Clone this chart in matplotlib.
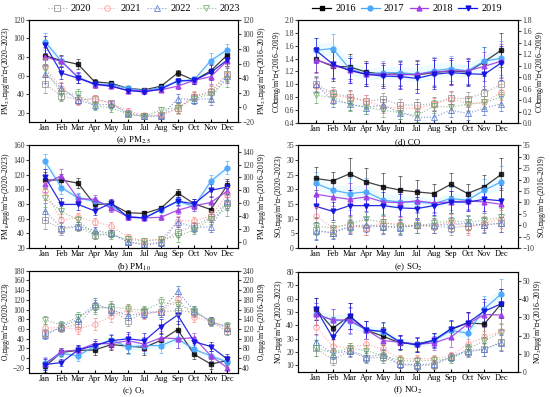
import matplotlib.pyplot as plt
from matplotlib.lines import Line2D

plt.rcParams['font.family'] = ['Liberation Serif', 'Noto Sans CJK SC']
plt.rcParams['mathtext.fontset'] = 'stix'

months = ['Jan', 'Feb', 'Mar', 'Apr', 'May', 'Jun', 'Jul', 'Aug', 'Sep', 'Oct', 'Nov', 'Dec']
x = list(range(1, 13))

years_new = ['2020', '2021', '2022', '2023']
years_old = ['2016', '2017', '2018', '2019']

# PM2.5 (a)
pm25_2020 = [51, 38, 34, 35, 30, 18, 16, 17, 25, 37, 42, 62]
pm25_2021 = [69, 47, 33, 35, 30, 22, 17, 18, 24, 38, 43, 61]
pm25_2022 = [62, 46, 34, 28, 29, 20, 16, 16, 35, 34, 35, 60]
pm25_2023 = [68, 40, 40, 27, 25, 18, 16, 23, 25, 35, 40, 56]
pm25_2016 = [71, 64, 59, 35, 33, 26, 24, 29, 47, 37, 50, 72]
pm25_2017 = [90, 63, 41, 32, 31, 26, 23, 27, 36, 38, 64, 79]
pm25_2018 = [69, 63, 41, 31, 29, 23, 23, 24, 29, 37, 42, 64]
pm25_2019 = [86, 47, 40, 32, 29, 23, 21, 25, 36, 37, 48, 65]
pm25_err_new = [10, 6, 5, 4, 4, 3, 3, 3, 5, 5, 7, 8]
pm25_err_old = [12, 8, 7, 4, 3, 3, 3, 3, 4, 5, 10, 8]

# PM10 (b)
pm10_2020 = [58, 46, 49, 38, 40, 28, 26, 28, 42, 50, 62, 82]
pm10_2021 = [98, 58, 62, 56, 50, 35, 30, 32, 57, 57, 64, 93]
pm10_2022 = [70, 48, 50, 44, 40, 29, 24, 27, 56, 48, 49, 84]
pm10_2023 = [88, 70, 58, 38, 38, 32, 30, 32, 36, 45, 60, 74]
pm10_2016 = [96, 96, 91, 58, 59, 45, 44, 52, 76, 59, 50, 88]
pm10_2017 = [125, 84, 68, 63, 56, 39, 37, 50, 63, 55, 94, 115]
pm10_2018 = [90, 103, 67, 66, 52, 39, 37, 38, 49, 56, 61, 79]
pm10_2019 = [101, 58, 58, 48, 60, 38, 37, 50, 63, 59, 80, 85]
pm10_err_new = [12, 8, 6, 5, 5, 4, 4, 4, 7, 6, 7, 10]
pm10_err_old = [12, 10, 8, 6, 6, 4, 4, 4, 6, 8, 10, 10]

# O3 (c)
o3_2020 = [52, 62, 70, 107, 102, 76, 95, 96, 98, 95, 76, 55]
o3_2021 = [62, 63, 60, 70, 86, 100, 90, 96, 122, 85, 75, 62]
o3_2022 = [47, 65, 80, 112, 100, 88, 92, 96, 138, 97, 76, 63]
o3_2023 = [79, 68, 85, 103, 105, 102, 98, 115, 110, 98, 74, 67]
o3_2016 = [43, 72, 76, 77, 88, 85, 82, 97, 119, 68, 48, 55]
o3_2017 = [50, 70, 65, 85, 98, 83, 86, 86, 100, 78, 65, 52]
o3_2018 = [48, 74, 77, 90, 90, 96, 89, 102, 100, 102, 65, 40]
o3_2019 = [47, 51, 77, 86, 96, 100, 96, 125, 149, 94, 84, 58]
o3_err_new = [8, 8, 10, 12, 12, 10, 10, 12, 10, 10, 8, 8]
o3_err_old = [12, 8, 10, 10, 12, 14, 15, 15, 18, 10, 10, 10]

# CO (d)
co_2020 = [1.01, 0.86, 0.81, 0.74, 0.77, 0.68, 0.68, 0.70, 0.79, 0.78, 0.87, 1.00]
co_2021 = [0.98, 0.83, 0.79, 0.74, 0.65, 0.63, 0.63, 0.69, 0.78, 0.70, 0.72, 0.88]
co_2022 = [1.00, 0.75, 0.70, 0.64, 0.68, 0.56, 0.49, 0.49, 0.60, 0.55, 0.63, 0.70]
co_2023 = [0.83, 0.80, 0.69, 0.64, 0.60, 0.56, 0.52, 0.66, 0.65, 0.69, 0.72, 0.80]
co_2016 = [1.11, 0.99, 0.98, 0.89, 0.85, 0.86, 0.84, 0.88, 0.91, 0.89, 1.07, 1.27]
co_2017 = [1.27, 1.30, 0.95, 0.85, 0.88, 0.88, 0.85, 0.91, 0.95, 0.91, 1.08, 1.13]
co_2018 = [1.10, 1.01, 0.92, 0.85, 0.85, 0.84, 0.85, 0.89, 0.91, 0.91, 0.99, 1.08]
co_2019 = [1.27, 1.03, 0.92, 0.85, 0.82, 0.81, 0.78, 0.85, 0.88, 0.86, 0.85, 1.05]
co_err_new = [0.12, 0.1, 0.1, 0.1, 0.1, 0.1, 0.1, 0.1, 0.1, 0.1, 0.1, 0.12]
co_err_old = [0.22, 0.25, 0.22, 0.2, 0.2, 0.22, 0.25, 0.25, 0.22, 0.22, 0.25, 0.3]

# SO2 (e)
so2_2020 = [6.0, 5.3, 7.5, 7.0, 7.5, 7.2, 7.8, 7.5, 7.0, 7.5, 8.0, 8.5]
so2_2021 = [11.0, 7.0, 8.0, 7.0, 8.5, 8.2, 7.5, 7.5, 9.0, 7.0, 8.5, 10.0]
so2_2022 = [5.8, 5.2, 7.2, 8.0, 7.3, 7.0, 7.8, 7.8, 8.0, 8.5, 7.8, 8.5]
so2_2023 = [7.5, 6.8, 8.3, 9.8, 8.8, 7.5, 7.5, 8.5, 9.3, 8.8, 9.5, 10.5]
so2_2016 = [20.5, 19.4, 22.5, 19.0, 16.9, 15.4, 14.6, 13.9, 17.9, 13.9, 16.9, 22.3]
so2_2017 = [18.3, 15.4, 13.9, 14.6, 11.0, 10.2, 10.2, 9.5, 11.7, 11.0, 15.4, 19.0]
so2_2018 = [13.6, 12.4, 11.4, 12.4, 10.2, 9.9, 10.7, 9.8, 10.2, 10.7, 10.2, 9.2]
so2_2019 = [8.3, 6.1, 8.6, 8.6, 8.6, 7.6, 7.3, 8.6, 10.2, 10.1, 11.4, 10.7]
so2_err_new = [3, 2, 2.5, 2.5, 2.5, 2.5, 2.5, 2.5, 2.5, 2.5, 2.5, 3]
so2_err_old = [5, 4, 7, 6, 6, 6, 5, 4, 5, 4, 5, 7]

# NO2 (f)
no2_2020 = [23, 14, 20.5, 15.6, 16, 10.7, 9.5, 10.5, 16, 20, 22, 27.7]
no2_2021 = [38.7, 24.7, 23, 26, 22, 15, 15, 15, 17, 26, 31, 35.8]
no2_2022 = [27.7, 18.6, 21, 16.6, 18, 11, 10.5, 11, 16.6, 21, 22, 27]
no2_2023 = [23, 19.3, 23, 21, 17.3, 13.7, 13, 14, 14.4, 22.3, 28.4, 35]
no2_2016 = [34.8, 24, 30.7, 23, 19.6, 16, 15.5, 17.3, 23.2, 27, 26.4, 37.5]
no2_2017 = [31.8, 28.6, 28, 23.2, 22, 16.4, 15.2, 17, 22.9, 21.4, 34.8, 42.9]
no2_2018 = [31.8, 28.6, 28.6, 23.2, 17.3, 16.4, 15.2, 16, 19, 26.4, 31.6, 31.3]
no2_2019 = [34.8, 19, 30.7, 23.2, 22.3, 16.4, 14.8, 17.5, 23.6, 27, 33.4, 37.5]
no2_err_new = [6, 4, 4, 4, 4, 3, 3, 3, 3, 4, 5, 6]
no2_err_old = [6, 6, 7, 5, 5, 4, 4, 4, 5, 6, 7, 8]

new_styles = [('#8c8c8c', 's'), ('#ff8a8a', 'o'), ('#4f6fd0', '^'), ('#6aa86a', 'v')]
old_styles = [('#000000', 's'), ('#4aa8ff', 'o'), ('#a23ee6', '^'), ('#1414e0', 'v')]

panels = [
    dict(pos=[0.053, 0.693, 0.380, 0.257], new=[pm25_2020, pm25_2021, pm25_2022, pm25_2023],
         old=[pm25_2016, pm25_2017, pm25_2018, pm25_2019], err_new=pm25_err_new, err_old=pm25_err_old,
         ylim_l=(10, 120), ylim_r=(-20, 120), ticks_l=range(20, 121, 20), ticks_r=range(-20, 121, 20),
         name='PM$_{2.5}$', unit='μg/m$^3$', left_years='2020–2023', cap='(a) PM$_{2.5}$', xlim=(0.05, 12.65)),
    dict(pos=[0.053, 0.375, 0.380, 0.259], new=[pm10_2020, pm10_2021, pm10_2022, pm10_2023],
         old=[pm10_2016, pm10_2017, pm10_2018, pm10_2019], err_new=pm10_err_new, err_old=pm10_err_old,
         ylim_l=(20, 160), ylim_r=(-10, 150), ticks_l=range(20, 161, 20), ticks_r=range(0, 141, 20),
         name='PM$_{10}$', unit='μg/m$^3$', left_years='2020–2023', cap='(b) PM$_{10}$', xlim=(0.05, 12.65)),
    dict(pos=[0.053, 0.061, 0.380, 0.257], new=[o3_2020, o3_2021, o3_2022, o3_2023],
         old=[o3_2016, o3_2017, o3_2018, o3_2019], err_new=o3_err_new, err_old=o3_err_old,
         ylim_l=(-30, 180), ylim_r=(30, 240), ticks_l=range(-20, 181, 20), ticks_r=range(40, 241, 20),
         name='O$_3$', unit='μg/m$^3$', left_years='2020–2023', cap='(c) O$_3$', xlim=(0.05, 12.65)),
    dict(pos=[0.542, 0.690, 0.400, 0.260], new=[co_2020, co_2021, co_2022, co_2023],
         old=[co_2016, co_2017, co_2018, co_2019], err_new=co_err_new, err_old=co_err_old,
         ylim_l=(0.4, 2.0), ylim_r=(0.0, 1.8), ticks_l=[0.4, 0.6, 0.8, 1.0, 1.2, 1.4, 1.6, 1.8, 2.0],
         ticks_r=[0.0, 0.2, 0.4, 0.6, 0.8, 1.0, 1.2, 1.4, 1.6, 1.8], fmt='%.1f',
         name='CO', unit='mg/m$^3$', left_years='2016–2019', cap='(d) CO', xlim=(-0.05, 13.0)),
    dict(pos=[0.542, 0.375, 0.400, 0.259], new=[so2_2020, so2_2021, so2_2022, so2_2023],
         old=[so2_2016, so2_2017, so2_2018, so2_2019], err_new=so2_err_new, err_old=so2_err_old,
         ylim_l=(0, 35), ylim_r=(-10, 35), ticks_l=range(0, 36, 5), ticks_r=range(-10, 36, 5),
         name='SO$_2$', unit='μg/m$^3$', left_years='2020–2023', cap='(e) SO$_2$', xlim=(-0.05, 13.0)),
    dict(pos=[0.542, 0.063, 0.400, 0.252], new=[no2_2020, no2_2021, no2_2022, no2_2023],
         old=[no2_2016, no2_2017, no2_2018, no2_2019], err_new=no2_err_new, err_old=no2_err_old,
         ylim_l=(5, 80), ylim_r=(0, 55), ticks_l=range(10, 81, 10), ticks_r=range(0, 51, 10),
         name='NO$_2$', unit='μg/m$^3$', left_years='2020–2023', cap='(f) NO$_2$', xlim=(-0.05, 13.0)),
]

fig = plt.figure(figsize=(5.5, 3.97), dpi=100)

for p in panels:
    ax = fig.add_axes(p['pos'])
    ax2 = ax.twinx()
    ax.set_zorder(ax2.get_zorder() + 1)
    ax.patch.set_visible(False)

    for vals, (c, m), yr in zip(p['new'], new_styles, years_new):
        ax.errorbar(x, vals, yerr=p['err_new'], color=c, marker=m, ms=4, mfc='none', mew=0.7,
                    lw=0.8, ls=':', elinewidth=0.5, capsize=1.2, capthick=0.5, alpha=0.75)
    for vals, (c, m), yr in zip(p['old'], old_styles, years_old):
        if yr == '2017':
            ax2.fill_between(x, [v - e * 0.5 for v, e in zip(vals, p['err_old'])],
                             [v + e * 0.5 for v, e in zip(vals, p['err_old'])],
                             color='#7fe9ff', alpha=0.15, lw=0)
        ax2.errorbar(x, vals, yerr=p['err_old'], color=c, marker=m, ms=3.5, mec=c,
                     lw=0.9, elinewidth=0.5, capsize=1.2, capthick=0.5,
                     alpha=0.9 if yr != '2016' else 0.75)

    ax.set_xlim(*p['xlim'])
    ax.set_xticks(x)
    ax.set_xticklabels(months)
    ax.set_ylim(*p['ylim_l'])
    ax2.set_ylim(*p['ylim_r'])
    ax.set_yticks(list(p['ticks_l']))
    ax2.set_yticks(list(p['ticks_r']))
    if 'fmt' in p:
        ax.yaxis.set_major_formatter(plt.FormatStrFormatter(p['fmt']))
        ax2.yaxis.set_major_formatter(plt.FormatStrFormatter(p['fmt']))

    ax.tick_params(axis='x', direction='in', length=2, labelsize=6, pad=1.5)
    ax.tick_params(axis='y', direction='out', length=2, labelsize=5.5, pad=1, colors='#444444',
                   labelcolor='#333333')
    ax2.tick_params(axis='y', direction='out', length=2, labelsize=5.5, pad=1, colors='#444444',
                    labelcolor='#333333')
    for sp in ax2.spines.values():
        sp.set_color('#555555')
        sp.set_linewidth(0.8)

    ax.set_ylabel(p['name'] + '（' + p['unit'] + '）-(' + p['left_years'] + ')', fontsize=5.5, labelpad=0)
    ax2.set_ylabel(p['name'] + '（' + p['unit'] + '）-(2016–2019)', fontsize=5.5, labelpad=1)

    x0, y0, w, h = p['pos']
    fig.text(x0 + w / 2, y0 - 0.047, p['cap'], ha='center', va='center', fontsize=6.5)

new_handles = [Line2D([], [], color=c, marker=m, ms=4, mfc='none', mew=0.7, lw=0.8, ls=':', alpha=0.75)
               for c, m in new_styles]
old_handles = [Line2D([], [], color=c, marker=m, ms=3.5, lw=0.9) for c, m in old_styles]

fig.legend(new_handles, years_new, loc='center', bbox_to_anchor=(0.262, 0.978), ncol=4,
           frameon=False, fontsize=7.5, handlelength=1.8, columnspacing=0.6, handletextpad=0.4)
fig.legend(old_handles, years_old, loc='center', bbox_to_anchor=(0.74, 0.978), ncol=4,
           frameon=False, fontsize=7.5, handlelength=1.8, columnspacing=0.5, handletextpad=0.4)

fig.savefig('out.png', dpi=100)
